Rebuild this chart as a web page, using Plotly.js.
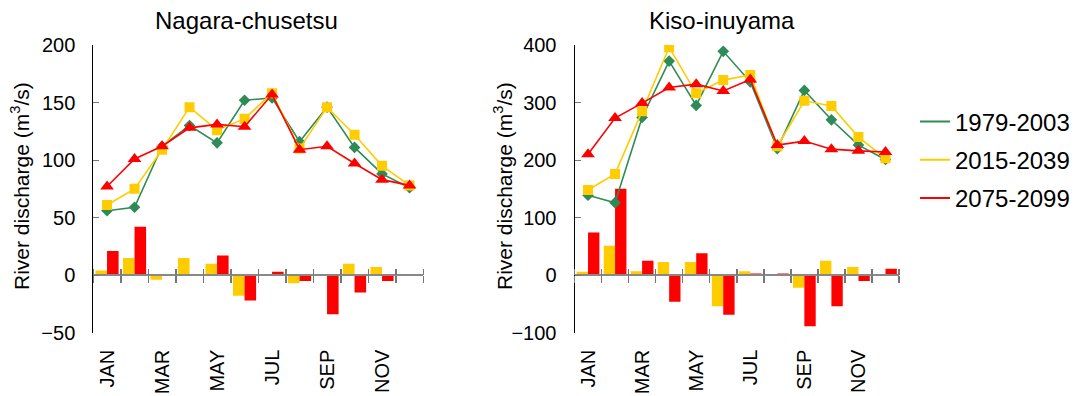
<!DOCTYPE html>
<html>
<head>
<meta charset="utf-8">
<script src="https://cdn.plot.ly/plotly-3.0.1.min.js"></script>
<style>html,body{margin:0;padding:0;background:#fff;}#chart{width:1078px;height:396px;}</style>
</head>
<body>
<div id="chart"></div>
<script>
// ---- data ----
const months = ['JAN','FEB','MAR','APR','MAY','JUN','JUL','AUG','SEP','OCT','NOV','DEC'];
const periods = ['1979-2003','2015-2039','2075-2099'];

// Nagara-chusetsu monthly river discharge (m3/s)
const nagara_1979_2003 = [56, 59, 112, 130, 115, 152, 154, 116, 146, 111, 88, 76];
const nagara_2015_2039 = [61, 75, 109, 146, 126, 136, 158, 110, 146, 122, 95, 78];
const nagara_2075_2099 = [77, 101, 112, 128, 131, 129, 157, 109, 112, 97, 83, 78];
// change from 1979-2003 (bars)
const nagara_change_2015_2039 = [4, 15, -4, 15, 10, -18, 1, -7, 0, 10, 7, 0];
const nagara_change_2075_2099 = [21, 42, 1, 0, 17, -22, 3, -5, -34, -15, -5, 1];

// Kiso-inuyama monthly river discharge (m3/s)
const kiso_1979_2003 = [139, 126, 274, 372, 295, 389, 336, 220, 321, 270, 226, 201];
const kiso_2015_2039 = [148, 176, 285, 396, 316, 339, 348, 224, 303, 294, 240, 203];
const kiso_2075_2099 = [210, 273, 299, 326, 332, 320, 340, 226, 233, 219, 216, 214];
const kiso_change_2015_2039 = [6, 51, 7, 23, 23, -54, 7, 0, -22, 25, 14, 0];
const kiso_change_2075_2099 = [74, 150, 25, -46, 38, -69, 3, 3, -89, -54, -10, 11];

const yTitle = 'River discharge (m<sup>3</sup>/s)';
const panelTitles = ['Nagara-chusetsu', 'Kiso-inuyama'];

// ---- styling ----
const FONT = 'Liberation Sans, Arial, Helvetica, sans-serif';
const GREEN = '#2E8B57', YELLOW = '#FFCC00', RED = '#FF0000';
const colors = [GREEN, YELLOW, RED];
const symbols = ['diamond', 'square', 'triangle-up'];
const msizes = [9, 10, 12];

const idx = months.map((m, i) => i);
const boundaries = months.map((m, i) => i - 0.5).concat([months.length - 0.5]);
const labelVals = idx.filter(i => i % 2 === 0);
const labelText = months.filter((m, i) => i % 2 === 0);

const H = 396, W = 1078;
const yTop = 1 - 45 / H, yBot = 1 - 332.7 / H;

function panel(series, changes, xa, xIn, ya) {
  const tr = [];
  tr.push({type: 'bar', x: idx, y: changes[0], xaxis: xa, yaxis: ya,
           marker: {color: YELLOW, line: {width: 0}}, showlegend: false, hoverinfo: 'skip'});
  tr.push({type: 'bar', x: idx, y: changes[1], xaxis: xa, yaxis: ya,
           marker: {color: RED, line: {width: 0}}, showlegend: false, hoverinfo: 'skip'});
  series.forEach((s, k) => {
    tr.push({type: 'scatter', mode: 'lines+markers', x: idx, y: s, xaxis: xIn, yaxis: ya,
             line: {color: colors[k], width: 1.6},
             marker: {symbol: symbols[k], size: msizes[k], color: colors[k]},
             showlegend: false, hoverinfo: 'skip'});
  });
  return tr;
}

let data = [];
data = data.concat(panel([nagara_1979_2003, nagara_2015_2039, nagara_2075_2099],
                         [nagara_change_2015_2039, nagara_change_2075_2099], 'x', 'x5', 'y'));
data = data.concat(panel([kiso_1979_2003, kiso_2015_2039, kiso_2075_2099],
                         [kiso_change_2015_2039, kiso_change_2075_2099], 'x2', 'x6', 'y2'));
// legend entries (line only)
periods.forEach((p, k) => {
  data.push({type: 'scatter', mode: 'lines', x: [null], y: [null], xaxis: 'x3', yaxis: 'y',
             name: p, legendgroup: 'g' + k, line: {color: colors[k], width: 2}, hoverinfo: 'skip'});
});
data.push({type: 'scatter', mode: 'lines', x: [null], y: [null], xaxis: 'x4', yaxis: 'y2',
           showlegend: false, hoverinfo: 'skip'});

const domL = [93.3 / W, 423.3 / W];
const domR = [574.5 / W, 899 / W];
const zeroPos = yBot + 0.2 * (yTop - yBot);

function labelAxis(dom, anchor) {
  return {domain: dom, anchor: anchor, range: [-0.5, 11.5], tickmode: 'array',
          tickvals: labelVals, ticktext: labelText, tickangle: -90, ticks: '',
          ticklabelstandoff: 12, showline: false, showgrid: false, zeroline: false,
          tickfont: {family: FONT, size: 20, color: '#000'}, fixedrange: true};
}
function zeroAxis(dom, over, side) {
  return {domain: dom, overlaying: over, anchor: 'free', position: zeroPos, side: side,
          range: [-0.5, 11.5], tickmode: 'array', tickvals: boundaries,
          ticks: 'outside', ticklen: side === 'bottom' ? 7 : 6, tickwidth: 1.5, tickcolor: '#777',
          showticklabels: false, showline: side === 'bottom', linecolor: '#888', linewidth: 2,
          showgrid: false, zeroline: false, layer: 'above traces', fixedrange: true};
}
function yAxis(anchor, range, dtick) {
  return {domain: [yBot, yTop], anchor: anchor, range: range, dtick: dtick, tick0: 0,
          ticks: 'inside', ticklen: 6, tickwidth: 1, tickcolor: '#777',
          showline: true, linecolor: '#000', linewidth: 1, showgrid: false, zeroline: false,
          ticklabelstandoff: 13,
          tickfont: {family: FONT, size: 20, color: '#000'},
          fixedrange: true};
}

const titleY = 1 - 21 / H;
const yTitleY = 1 - 186 / H;
const layout = {
  width: W, height: H,
  margin: {l: 0, r: 0, t: 0, b: 0},
  paper_bgcolor: '#fff', plot_bgcolor: 'rgba(0,0,0,0)',
  font: {family: FONT, color: '#000'},
  barmode: 'group', bargap: 0.16, bargroupgap: 0,
  hovermode: false,
  xaxis: labelAxis(domL, 'y'),
  xaxis3: zeroAxis(domL, 'x', 'bottom'),
  xaxis5: zeroAxis(domL, 'x', 'top'),
  yaxis: yAxis('x', [-50, 200], 50),
  xaxis2: labelAxis(domR, 'y2'),
  xaxis4: zeroAxis(domR, 'x2', 'bottom'),
  xaxis6: zeroAxis(domR, 'x2', 'top'),
  yaxis2: yAxis('x2', [-100, 400], 100),
  legend: {x: 915 / W, xanchor: 'left', y: 1 - 160 / H, yanchor: 'middle',
           font: {family: FONT, size: 24, color: '#000'}, bgcolor: 'rgba(0,0,0,0)',
           traceorder: 'grouped', tracegroupgap: 4},
  annotations: [
    {text: panelTitles[0], xref: 'paper', yref: 'paper', x: 246 / W, y: titleY,
     xanchor: 'center', yanchor: 'middle', showarrow: false, font: {family: FONT, size: 24, color: '#000'}},
    {text: panelTitles[1], xref: 'paper', yref: 'paper', x: 722 / W, y: titleY,
     xanchor: 'center', yanchor: 'middle', showarrow: false, font: {family: FONT, size: 24, color: '#000'}},
    {text: yTitle, xref: 'paper', yref: 'paper', x: 20 / W, y: yTitleY, textangle: -90,
     xanchor: 'center', yanchor: 'middle', showarrow: false, font: {family: FONT, size: 21, color: '#000'}},
    {text: yTitle, xref: 'paper', yref: 'paper', x: 503 / W, y: yTitleY, textangle: -90,
     xanchor: 'center', yanchor: 'middle', showarrow: false, font: {family: FONT, size: 21, color: '#000'}}
  ]
};

Plotly.newPlot('chart', data, layout, {staticPlot: true, displayModeBar: false});
</script>
</body>
</html>
